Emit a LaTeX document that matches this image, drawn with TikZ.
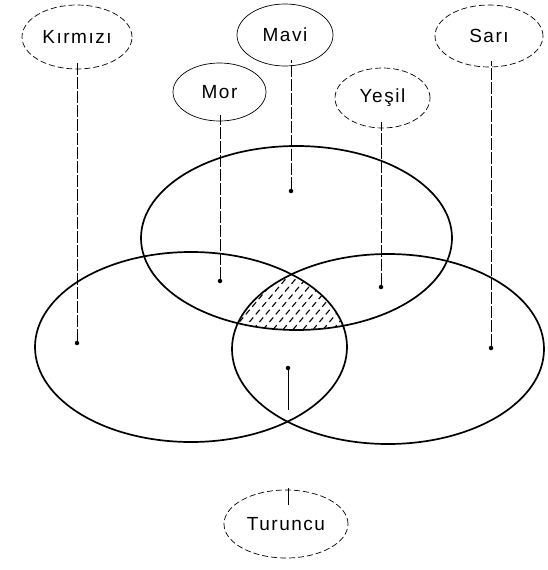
\documentclass[tikz,border=0pt]{standalone}
\usepackage{fontspec}
\setmainfont{Liberation Sans}
\newfontfamily\lblfont[LetterSpace=8]{Liberation Sans}
\usetikzlibrary{shapes.geometric}
\begin{document}
\begin{tikzpicture}[x=1pt,y=-1pt,
  lbl/.style={ellipse, draw, line width=0.7pt, inner sep=0pt,
    font=\lblfont\fontsize{19}{19}\selectfont},
  lbldash/.style={lbl, dash pattern=on 6pt off 3pt},
  conn/.style={line width=0.6pt, dash pattern=on 12pt off 2pt},
  big/.style={line width=1.7pt},
  dotm/.style={circle, fill, inner sep=0pt, minimum size=4.5pt},
  hatch/.style={line width=1.1pt, dash pattern=on 6pt off 4pt}
]
\useasboundingbox (0,0) rectangle (547,570);

% big ellipses
\draw[big] (296.5,238) ellipse [x radius=155.5, y radius=92];
\draw[big] (191,347) ellipse [x radius=156, y radius=95];
\draw[big] (388,349) ellipse [x radius=156, y radius=95];

% hatched common region
\begin{scope}
  \clip (296.5,238) ellipse [x radius=155.5, y radius=92];
  \clip (191,347) ellipse [x radius=156, y radius=95];
  \clip (388,349) ellipse [x radius=156, y radius=95];
  \foreach \x in {150,160,...,360}
    \draw[hatch] (\x,345) -- ++(75,-89);
\end{scope}

% labels
\node[lbldash, minimum width=110pt, minimum height=64pt] (kir) at (77,37) {Kırmızı};
\node[lbl,     minimum width=96pt,  minimum height=62pt] (mav) at (285,35) {Mavi};
\node[lbldash, minimum width=108pt, minimum height=62pt] (sar) at (489,36) {Sarı};
\node[lbl,     minimum width=93pt,  minimum height=58pt] (mor) at (219.5,92) {Mor};
\node[lbldash, minimum width=95pt,  minimum height=60pt] (yes) at (382.5,98) {Yeşil};
\node[lbldash, minimum width=124pt, minimum height=68pt] (tur) at (286,524) {Turuncu};

% dots
\node[dotm] (dk) at (77,343) {};
\node[dotm] (dm) at (291,191) {};
\node[dotm] (ds) at (491,348) {};
\node[dotm] (dmo) at (220,281) {};
\node[dotm] (dy) at (381,287) {};
\node[dotm] (dt) at (288,368) {};

% connectors
\draw[conn] (dk) -- ([yshift=6pt]dk |- kir.south);
\draw[conn] (dm) -- ([yshift=6pt]dm |- mav.south);
\draw[conn] (ds) -- ([yshift=6pt]ds |- sar.south);
\draw[conn] (dmo) -- ([yshift=6pt]dmo |- mor.south);
\draw[conn] (dy) -- ([yshift=6pt]dy |- yes.south);
\draw[line width=0.6pt, dash pattern=on 40pt off 78pt on 18pt off 30pt]
  (dt) -- ([yshift=-15pt]dt |- tur.north);
\end{tikzpicture}
\end{document}
